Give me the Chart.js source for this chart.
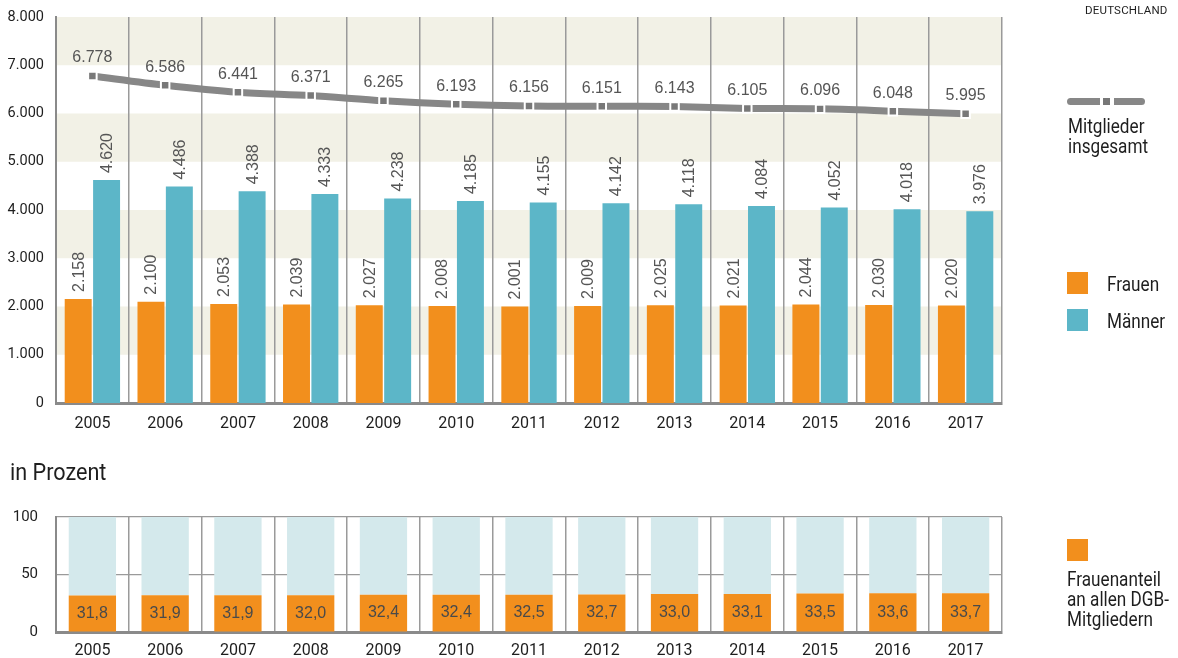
<!DOCTYPE html>
<html lang="de">
<head>
<meta charset="utf-8">
<title>DGB-Mitglieder 2005–2017</title>
<script src="https://cdn.jsdelivr.net/npm/chart.js@4.4.1/dist/chart.umd.min.js"></script>
<style>
  html, body { margin: 0; padding: 0; background: #fff; }
  body { width: 1178px; height: 658px; position: relative; overflow: hidden;
         font-family: Roboto, 'Liberation Sans', sans-serif; color: #1e1e1e; }
  .abs { position: absolute; }
  #top { left: 0; top: 0; }
  #bottom { left: 0; top: 440px; }
  .country { left: 1085px; top: 3px; font-size: 11.5px; letter-spacing: 0.2px; white-space: nowrap; }
  .subtitle { left: 10px; top: 458px; font-size: 24px; white-space: nowrap;
              transform: scaleX(0.9); transform-origin: left top; }
  .leg { font-size: 19.5px; line-height: 20px; white-space: nowrap;
         transform: scaleX(0.88); transform-origin: left top; }
  .sw { width: 21px; height: 22px; }
  .pill { height: 7px; background: #878787; }
</style>
</head>
<body>
<canvas id="top" class="abs" width="1178" height="440"></canvas>
<canvas id="bottom" class="abs" width="1178" height="218"></canvas>

<div class="abs country">DEUTSCHLAND</div>
<div class="abs subtitle">in Prozent</div>

<!-- Legende: Mitglieder insgesamt -->
<div class="abs pill" style="left:1067px; top:98px; width:33px; border-radius:4px 0 0 4px;"></div>
<div class="abs pill" style="left:1103px; top:98px; width:7px; background:#777;"></div>
<div class="abs pill" style="left:1114px; top:98px; width:31px; border-radius:0 4px 4px 0;"></div>
<div class="abs leg" style="left:1068px; top:117px;">Mitglieder<br>insgesamt</div>

<!-- Legende: Frauen / Männer -->
<div class="abs sw" style="left:1067px; top:272px; background:#f28f1d;"></div>
<div class="abs leg" style="left:1107px; top:275px;">Frauen</div>
<div class="abs sw" style="left:1067px; top:309px; background:#5cb6c8;"></div>
<div class="abs leg" style="left:1107px; top:312px;">Männer</div>

<!-- Legende: Frauenanteil -->
<div class="abs sw" style="left:1067px; top:539px; background:#f28f1d;"></div>
<div class="abs leg" style="left:1067px; top:570px;">Frauenanteil<br>an allen DGB-<br>Mitgliedern</div>

<script>
// Mitgliederzahlen in Tausend, Jahre 2005–2017
const years = ['2005', '2006', '2007', '2008', '2009', '2010', '2011', '2012', '2013', '2014', '2015', '2016', '2017'];
const frauen = [2158, 2100, 2053, 2039, 2027, 2008, 2001, 2009, 2025, 2021, 2044, 2030, 2020];
const maenner = [4620, 4486, 4388, 4333, 4238, 4185, 4155, 4142, 4118, 4084, 4052, 4018, 3976];
const insgesamt = [6778, 6586, 6441, 6371, 6265, 6193, 6156, 6151, 6143, 6105, 6096, 6048, 5995];
// Frauenanteil in Prozent
const frauenanteil = [31.8, 31.9, 31.9, 32.0, 32.4, 32.4, 32.5, 32.7, 33.0, 33.1, 33.5, 33.6, 33.7];
const topTicks = [0, 1000, 2000, 3000, 4000, 5000, 6000, 7000, 8000];
const pctTicks = [0, 50, 100];

const ORANGE = '#f28f1d';
const TEAL = '#5cb6c8';
const PALE = '#d4e9ec';
const LINEGREY = '#878787';
const BAND = '#f2f1e6';
const GRID = '#9a9a9a';
const AXIS = '#8a8a8a';
const TICKFONT = "Roboto, 'Liberation Sans', sans-serif";
const VALFONT = "'Liberation Sans', Arial, sans-serif";

const fmtInt = n => String(n).replace(/\B(?=(\d{3})+(?!\d))/g, '.');
const fmtPct = v => v.toFixed(1).replace('.', ',');

Chart.defaults.font.family = TICKFONT;
Chart.defaults.color = '#1e1e1e';

// Fixed axis box sizes, so the plot area is set by the layout padding alone
const fixBox = (w, h) => s => {
  if (w != null) s.width = w;
  if (h != null) s.height = h;
  s.paddingTop = 0; s.paddingBottom = 0; s.paddingLeft = 0; s.paddingRight = 0;
};

// Horizontal stripes behind the upper chart: every other 1.000 band tinted
const bandPlugin = {
  id: 'bands',
  beforeDraw(chart) {
    const { ctx, chartArea: a, scales: { y } } = chart;
    ctx.save();
    ctx.fillStyle = BAND;
    for (let v = 1000; v < 8000; v += 2000) {
      const yTop = y.getPixelForValue(v + 1000);
      const yBot = y.getPixelForValue(v);
      ctx.fillRect(a.left, yTop, a.right - a.left, yBot - yTop);
    }
    ctx.restore();
  }
};

// Value labels: rotated above the bars, horizontal above the total line
const topLabels = {
  id: 'topLabels',
  afterDatasetsDraw(chart) {
    const ctx = chart.ctx;
    ctx.save();
    ctx.fillStyle = '#555';
    ctx.font = '16px ' + VALFONT;
    [0, 1].forEach(di => {
      const meta = chart.getDatasetMeta(di);
      const vals = chart.data.datasets[di].data;
      meta.data.forEach((bar, i) => {
        ctx.save();
        ctx.translate(bar.x + 1, bar.y - 7);
        ctx.rotate(-Math.PI / 2);
        ctx.textAlign = 'left';
        ctx.textBaseline = 'middle';
        ctx.fillText(fmtInt(vals[i]), 0, 0);
        ctx.restore();
      });
    });
    const lm = chart.getDatasetMeta(2);
    const lv = chart.data.datasets[2].data;
    ctx.textAlign = 'center';
    ctx.textBaseline = 'middle';
    lm.data.forEach((pt, i) => {
      ctx.fillText(fmtInt(lv[i]), pt.x, pt.y - 18);
    });
    ctx.restore();
  }
};

new Chart(document.getElementById('top'), {
  data: {
    labels: years,
    datasets: [
      { type: 'bar', label: 'Frauen', data: frauen, backgroundColor: ORANGE, order: 1,
        categoryPercentage: 0.78, barPercentage: 0.95 },
      { type: 'bar', label: 'Männer', data: maenner, backgroundColor: TEAL, order: 1,
        categoryPercentage: 0.78, barPercentage: 0.95 },
      { type: 'line', label: 'Mitglieder insgesamt', data: insgesamt, order: 0,
        borderColor: LINEGREY, borderWidth: 7, tension: 0.3, borderCapStyle: 'butt',
        pointStyle: 'rect', pointRadius: 6, pointBackgroundColor: '#787878',
        pointBorderColor: '#fff', pointBorderWidth: 2 }
    ]
  },
  options: {
    responsive: false,
    animation: false,
    events: [],
    layout: { autoPadding: false, padding: { top: 17, right: 176, left: 0, bottom: 0 } },
    plugins: { legend: { display: false }, tooltip: { enabled: false } },
    scales: {
      x: {
        offset: true,
        grid: { offset: true, color: GRID, lineWidth: 1.5, drawTicks: false },
        border: { display: true, color: AXIS, width: 3 },
        ticks: { color: '#1e1e1e', font: { size: 16 }, padding: 11, maxRotation: 0 },
        afterFit: fixBox(null, 37)
      },
      y: {
        min: 0, max: 8000,
        afterBuildTicks(s) { s.ticks = topTicks.map(v => ({ value: v })); },
        grid: { display: false, drawTicks: false },
        border: { display: true, color: AXIS, width: 2 },
        ticks: { color: '#1e1e1e', font: { size: 14.5 }, padding: 12, callback: v => fmtInt(v) },
        afterFit: fixBox(56, null)
      }
    }
  },
  plugins: [bandPlugin, topLabels]
});

// Percentage labels inside the orange bars
const pctLabels = {
  id: 'pctLabels',
  afterDatasetsDraw(chart) {
    const ctx = chart.ctx;
    const meta = chart.getDatasetMeta(0);
    ctx.save();
    ctx.fillStyle = '#4a4a4a';
    ctx.font = '16px ' + VALFONT;
    ctx.textAlign = 'center';
    ctx.textBaseline = 'middle';
    meta.data.forEach((bar, i) => {
      ctx.fillText(fmtPct(frauenanteil[i]), bar.x, (bar.y + bar.base) / 2);
    });
    ctx.restore();
  }
};

new Chart(document.getElementById('bottom'), {
  type: 'bar',
  data: {
    labels: years,
    datasets: [
      { label: 'Frauenanteil', data: frauenanteil, backgroundColor: ORANGE,
        categoryPercentage: 0.65, barPercentage: 1 },
      { label: 'Männeranteil', data: frauenanteil.map(v => 100 - v), backgroundColor: PALE,
        categoryPercentage: 0.65, barPercentage: 1 }
    ]
  },
  options: {
    responsive: false,
    animation: false,
    events: [],
    layout: { autoPadding: false, padding: { top: 77, right: 176, left: 0, bottom: 0 } },
    plugins: { legend: { display: false }, tooltip: { enabled: false } },
    scales: {
      x: {
        stacked: true,
        offset: true,
        grid: { offset: true, color: GRID, lineWidth: 1.5, drawTicks: false },
        border: { display: true, color: AXIS, width: 3 },
        ticks: { color: '#1e1e1e', font: { size: 16 }, padding: 9, maxRotation: 0 },
        afterFit: fixBox(null, 26)
      },
      y: {
        stacked: true,
        min: 0, max: 100,
        afterBuildTicks(s) { s.ticks = pctTicks.map(v => ({ value: v })); },
        grid: { color: GRID, lineWidth: 1.2, drawTicks: false },
        border: { display: true, color: AXIS, width: 2 },
        ticks: { color: '#1e1e1e', font: { size: 15 }, padding: 18 },
        afterFit: fixBox(56, null)
      }
    }
  },
  plugins: [pctLabels]
});
</script>
</body>
</html>
